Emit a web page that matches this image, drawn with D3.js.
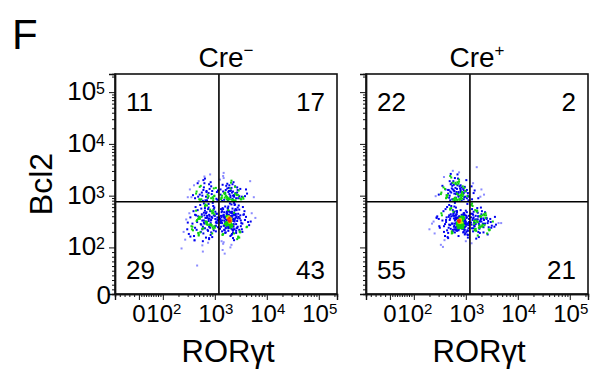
<!DOCTYPE html>
<html><head><meta charset="utf-8">
<script src="https://cdn.jsdelivr.net/npm/d3@7"></script>
<style>
body{margin:0;background:#fff}
text{font-family:"Liberation Sans",Arial,Helvetica,sans-serif;fill:#000}
</style>
</head><body>
<svg id="chart" width="591" height="370"></svg>
<script>
// ---------------- data ----------------
const panelLetter = "F";
const panelTitles = ["Cre", "Cre"];
const panelTitleSigns = ["\u2212", "+"];
const xAxisTitle = "RORγt";
const yAxisTitle = "Bcl2";
const majorTickValues = [0, 100, 1000, 10000, 100000];
const majorTickExponents = [null, 2, 3, 4, 5];
// quadrant percentages: upper-left, upper-right, lower-left, lower-right
const creNegQuadrants = [11, 17, 29, 43];
const creposQuadrants = [22, 2, 55, 21];
const gateRORgt = 1200;
const gateBcl2 = 760;
// events (log10 fluorescence), Cre- panel
const creNegLogRORgt = [
2.62,2.71,2.78,2.85,2.93,2.99,3.04,2.67,2.74,2.81,2.88,2.96,3.02,2.58,2.69,2.77,2.84,2.91,2.97,2.52,2.73,2.86,2.94,3.05,2.80,2.65,2.89,2.76,2.83,2.98,2.70,2.92,2.48,
2.55,2.62,2.68,2.74,2.79,2.83,2.88,2.92,2.97,3.01,3.05,2.58,2.64,2.71,2.77,2.81,2.86,2.90,2.95,2.99,3.03,3.06,2.51,2.60,2.66,2.72,2.76,2.82,2.87,2.91,2.94,2.98,3.02,
2.45,2.57,2.63,2.69,2.75,2.80,2.84,2.89,2.93,2.96,3.00,3.04,2.40,2.53,2.61,2.67,2.73,2.78,2.85,2.88,2.92,2.97,3.02,2.48,2.59,2.65,2.70,2.76,2.81,2.86,2.90,2.95,2.99,3.06,
2.36,2.56,2.64,2.72,2.79,2.84,2.89,2.94,3.01,2.50,2.68,2.77,2.83,2.91,2.98,2.43,2.74,2.87,2.82,2.66,
3.12,3.18,3.24,3.30,3.36,3.42,3.48,3.15,3.21,3.27,3.33,3.39,3.45,3.55,3.10,3.19,3.26,3.31,3.38,3.44,3.52,3.62,3.14,3.22,3.29,3.35,3.41,3.49,3.16,3.23,3.28,3.34,3.40,3.58,3.11,3.20,3.25,3.32,3.37,3.46,3.68,3.13,3.27,3.35,3.43,3.17,3.30,3.50,3.24,3.39,3.75,
3.10,3.14,3.18,3.22,3.26,3.30,3.34,3.38,3.42,3.47,3.53,3.60,3.71,3.12,3.16,3.20,3.24,3.28,3.32,3.36,3.40,3.45,3.50,3.57,3.66,3.13,
3.17,3.21,3.25,3.29,3.33,3.37,3.41,3.46,3.11,3.19,3.27,3.35,3.44,3.15,3.23,3.31,3.39,3.48,3.55,3.20,3.26,3.32,3.38,3.43,3.09,3.28,
3.18,3.22,3.30,3.34,3.25,3.29,3.36,3.24,3.31,3.27,3.33,3.21,3.52,3.14,3.26,3.37,3.41,3.49,3.62,3.16,3.23,3.30,3.35,3.19,3.28,3.45,
3.11,3.25,3.32,3.40,3.58,3.21,3.29,3.34,3.17,3.27,3.38,3.47,3.24,3.13,3.22,3.30,3.36,3.43,3.54,3.78,3.20,3.26,3.31,3.28,3.33,3.15,
3.18,3.23,3.29,3.35,3.42,3.50,3.64,3.12,3.27,3.32,3.25,3.30,3.39,3.16,3.21,3.26,3.34,3.44,3.19,3.29,3.37,3.23,3.31,3.28,3.48,
2.64,2.72,2.79,2.87,2.95,3.03,2.60,2.75,2.82,2.90,2.99,2.68,2.78,2.86,2.93,3.06,2.55,2.71,2.84,2.97,2.80,2.88,
3.13,3.19,3.25,3.31,3.37,3.43,3.51,3.16,3.22,3.28,3.34,3.40,3.47,3.60,3.11,3.18,3.24,3.30,3.36,3.42,3.14,3.21,3.27,3.33,3.39,3.54,3.17,3.23,3.29,3.35,3.45,3.20,3.26,3.32,
2.70,2.76,2.81,2.85,2.89,2.93,2.97,3.01,2.73,2.79,2.84,2.88,2.92,2.96,3.00,3.04,2.66,2.74,2.80,2.86,2.91,2.95,2.99,3.03,2.62,2.71,2.78,2.83,2.87,2.90,2.94,2.98,
2.57,2.68,2.77,2.82,2.88,2.93,2.96,3.02,2.53,2.65,2.75,2.81,2.86,2.92,2.97,3.05,2.47,2.69,2.79,2.85,2.89,2.95,2.61,2.84,2.91,2.76,
3.12,3.17,3.21,3.25,3.29,3.33,3.37,3.41,3.46,3.51,3.15,3.23,3.31,3.39,3.10,3.19,3.24,3.28,3.32,3.36,3.40,3.44,3.49,3.56,3.14,3.22,3.30,3.38,
3.13,3.18,3.26,3.30,3.34,3.27,3.31,3.35,3.42,3.61,3.16,3.24,3.29,3.33,3.11,3.20,3.25,3.28,3.32,3.26,3.30,3.36,3.45,3.53,3.18,3.22,3.27,3.34,
3.15,3.21,3.29,3.31,3.38,3.43,3.48,3.69,3.17,3.23,3.26,3.28,3.35,3.40,3.12,3.19,3.24,3.27,3.33,3.37,3.47,3.58,3.14,3.20,3.25,3.30,3.32,3.41,3.29,3.26
];
const creNegLogBcl2 = [
2.95,3.02,3.11,2.91,3.18,2.99,3.07,3.24,2.93,3.33,3.05,2.97,3.15,3.01,3.28,2.90,3.09,3.41,2.94,3.12,3.19,2.96,3.03,2.92,3.37,3.08,3.22,3.00,2.98,3.14,2.93,3.26,2.97,
2.41,2.63,2.28,2.75,2.52,2.19,2.84,2.47,2.36,2.69,2.58,2.33,2.71,2.55,2.12,2.80,2.44,2.61,2.27,2.77,2.50,2.39,2.66,2.22,2.49,2.82,2.35,2.57,2.09,2.73,2.43,2.62,2.31,
2.54,2.40,2.78,2.25,2.60,2.46,2.68,2.16,2.53,2.86,2.38,2.65,2.30,2.58,2.13,2.72,2.45,2.37,2.81,2.51,2.24,2.67,2.42,2.48,2.70,2.34,2.59,2.04,2.76,2.44,2.56,2.20,2.64,2.52,
1.98,2.35,2.62,2.29,2.85,2.47,2.18,2.70,2.41,2.26,2.55,1.92,2.66,2.38,2.74,2.15,2.59,2.32,2.50,1.65,
2.93,3.05,2.97,3.14,2.91,3.02,2.95,3.21,2.99,3.09,2.92,3.17,3.01,2.94,3.31,2.96,3.07,3.25,2.90,3.11,2.98,3.04,3.00,3.19,2.93,3.08,2.95,3.13,3.38,2.97,3.03,3.22,2.91,2.99,3.12,3.06,2.94,3.29,3.01,3.10,3.28,2.96,3.15,2.92,3.06,3.44,3.00,2.93,3.23,3.04,2.97,
2.55,2.31,2.68,2.44,2.79,2.22,2.61,2.50,2.37,2.73,2.46,2.59,2.66,2.40,2.74,2.28,2.57,2.48,2.83,2.35,2.64,2.19,2.52,2.70,2.43,2.12,
2.62,2.45,2.54,2.38,2.69,2.27,2.58,2.81,2.47,2.33,2.60,2.51,2.77,2.25,2.66,2.42,2.56,2.30,2.63,2.49,2.72,2.36,2.53,2.16,2.58,2.46,
2.52,2.60,2.41,2.55,2.48,2.58,2.44,2.64,2.50,2.39,2.57,2.47,2.35,2.70,2.32,2.86,2.45,2.62,2.40,2.07,2.53,2.67,2.29,2.59,2.43,2.21,
2.49,2.76,2.24,2.65,2.53,2.37,2.85,2.56,2.10,2.44,2.71,2.34,2.62,2.58,2.42,2.00,2.63,2.51,2.78,2.57,2.46,2.39,2.68,2.54,2.26,1.95,
2.34,2.69,2.52,2.18,2.60,2.41,2.49,2.74,2.45,2.05,2.57,2.38,2.83,2.61,2.29,2.48,2.75,2.40,1.88,2.55,2.14,2.64,2.43,2.50,2.31,
3.04,2.92,3.16,2.96,3.09,2.94,3.20,3.06,2.91,3.13,3.00,2.98,3.30,3.02,2.95,3.10,2.97,3.17,3.07,2.90,3.24,2.99,
2.96,3.03,2.91,3.10,2.98,3.16,2.93,3.08,3.00,3.20,2.94,3.05,2.99,3.12,3.02,2.92,3.14,2.97,3.26,3.01,2.90,3.11,2.95,3.06,3.18,2.97,3.34,2.93,3.09,3.00,2.95,3.04,2.92,3.15,
2.58,2.36,2.71,2.49,2.63,2.42,2.80,2.55,2.30,2.67,2.45,2.77,2.52,2.39,2.61,2.47,2.53,2.44,2.62,2.34,2.70,2.57,2.41,2.65,2.38,2.56,2.27,2.50,2.74,2.43,2.59,2.33,
2.46,2.60,2.40,2.83,2.55,2.29,2.68,2.48,2.21,2.51,2.64,2.37,2.58,2.45,2.72,2.54,2.35,2.23,2.48,2.61,2.40,2.66,2.14,2.57,2.44,2.52,
2.49,2.63,2.38,2.71,2.55,2.44,2.67,2.32,2.59,2.47,2.76,2.41,2.53,2.62,2.36,2.57,2.46,2.69,2.51,2.40,2.74,2.56,2.29,2.64,2.52,2.45,2.60,2.35,
2.68,2.42,2.58,2.50,2.34,2.63,2.47,2.55,2.72,2.39,2.26,2.61,2.48,2.66,2.53,2.79,2.44,2.57,2.61,2.37,2.52,2.45,2.65,2.30,2.58,2.49,2.70,2.43,
2.24,2.54,2.60,2.46,2.82,2.38,2.56,2.50,2.42,2.67,2.48,2.55,2.33,2.73,2.61,2.45,2.57,2.51,2.40,2.64,2.19,2.53,2.47,2.59,2.75,2.43,2.56,2.28,2.51,2.58
];
// events (log10 fluorescence), Cre+ panel
const crePosLogRORgt = [
2.62,2.70,2.77,2.83,2.89,2.95,3.01,3.06,2.66,2.74,2.80,2.86,2.92,2.98,3.04,2.58,2.68,2.75,2.81,2.87,2.93,2.99,3.03,2.55,2.72,2.79,2.85,2.91,2.97,
2.64,2.71,2.78,2.84,2.90,2.96,3.02,2.60,2.69,2.76,2.82,2.88,2.94,2.48,2.73,2.81,2.87,2.93,3.05,2.67,2.79,2.86,2.92,2.52,2.77,2.84,2.90,2.42,2.70,2.88,2.96,2.75,2.83,2.63,2.80,2.91,2.86,
3.12,3.21,3.17,3.28,3.14,3.35,
2.60,2.68,2.75,2.81,2.86,2.90,2.94,2.98,3.02,3.05,2.72,2.84,2.92,2.97,3.04,2.55,2.66,2.78,2.83,2.88,2.91,2.95,2.99,3.03,2.70,2.80,2.87,2.93,2.96,3.06,
2.50,2.63,2.74,2.82,2.85,2.89,2.92,2.96,3.00,2.77,2.86,2.90,2.94,2.98,3.01,2.45,2.58,2.69,2.79,2.84,2.88,2.91,2.95,2.99,2.73,2.82,2.87,2.93,2.97,3.03,
2.40,2.62,2.71,2.80,2.86,2.89,2.92,2.94,2.97,2.76,2.83,2.88,2.91,2.95,3.00,2.35,2.57,2.67,2.78,2.85,2.90,2.93,2.96,3.02,2.74,2.81,2.87,2.92,2.98,3.05,
2.48,2.64,2.72,2.82,2.86,2.89,2.91,2.94,2.99,2.77,2.84,2.88,2.90,2.93,2.96,2.30,2.53,2.65,2.76,2.83,2.87,2.92,2.95,3.01,2.70,2.79,2.85,2.89,2.94,3.04,
2.43,2.59,2.68,2.80,2.85,2.88,2.90,2.93,2.97,2.75,2.82,2.86,2.91,2.95,3.00,2.52,2.61,2.73,2.81,2.84,2.87,2.89,2.92,2.96,2.78,2.83,2.88,2.90,2.94,2.99,
2.38,2.56,2.70,2.79,2.86,2.91,2.93,2.97,3.03,2.66,2.76,2.85,2.89,2.95,3.06,
3.10,3.14,3.18,3.22,3.26,3.30,3.34,3.38,3.43,3.49,3.56,3.12,3.16,3.20,3.24,3.28,3.32,3.37,3.42,3.47,3.63,3.11,3.15,3.19,3.23,3.27,3.31,3.36,3.40,3.46,3.52,
3.13,3.17,3.21,3.25,3.29,3.33,3.39,3.44,3.58,3.10,3.14,3.18,3.22,3.26,3.30,3.35,3.41,3.50,3.12,3.16,3.20,3.24,3.28,3.34,3.45,3.68,3.11,3.15,3.19,3.23,3.27,3.32,
2.65,2.73,2.80,2.86,2.91,2.97,3.02,2.69,2.76,2.83,2.88,2.94,3.00,2.61,2.72,2.79,2.85,2.90,2.96,3.04,
2.57,2.70,2.78,2.84,2.89,2.95,2.66,2.74,2.81,2.87,2.93,2.99,2.63,2.77,2.82,2.88,2.92,2.71,2.80,2.86,2.53,2.75,2.84,2.90,
3.15,3.24,3.11,3.30,
2.82,2.86,2.89,2.91,2.93,2.95,2.88,2.90,2.92,2.87,2.94,2.84,2.88,2.90,2.92,2.96,2.85,2.89,2.91,2.93,2.86,2.98,
2.78,2.83,2.87,2.90,2.94,2.97,2.81,2.88,2.92,2.95,3.00,2.72,2.80,2.85,2.89,2.91,2.93,2.84,2.87,2.90,2.96,3.02,
2.67,2.76,2.82,2.86,2.89,2.92,2.94,2.88,2.91,2.99,3.04,2.62,2.74,2.79,2.85,2.88,2.90,2.93,2.87,2.92,2.97,3.01,
2.58,2.70,2.77,2.83,2.87,2.91,2.95,2.86,2.89,2.93,3.05,2.54,2.68,2.75,2.81,2.86,2.90,2.94,2.88,2.92,2.96,3.03,
2.49,2.64,2.73,2.80,2.84,2.89,2.91,2.85,2.90,2.98,3.06,2.44,2.60,2.71,2.78,2.83,2.87,2.92,2.89,2.93,2.95,3.00,
3.11,3.15,3.19,3.23,3.27,3.31,3.36,3.42,3.13,3.17,3.21,3.25,3.29,3.34,3.40,3.48,3.10,3.16,3.20,3.24,3.28,3.33,3.38,3.55,
3.12,3.18,3.22,3.26,3.30,3.35,3.44,3.14,3.19,3.23,3.27,3.32,3.16,3.21,3.25,3.29,3.37,3.13
];
const crePosLogBcl2 = [
2.95,3.08,3.21,2.92,3.14,3.02,3.30,2.98,3.11,2.93,3.25,3.05,2.90,3.17,3.00,3.36,2.96,3.12,3.03,3.27,2.94,3.09,2.99,3.19,3.06,2.91,3.33,3.01,3.15,
2.97,3.22,3.04,3.41,2.93,3.10,2.95,3.13,3.00,3.28,3.07,2.92,3.18,3.02,3.24,2.96,3.45,3.06,2.91,3.11,3.34,2.98,3.16,3.03,2.94,3.20,3.09,2.99,3.38,2.93,3.05,3.48,3.13,3.01,3.23,2.97,3.07,
2.93,3.55,3.10,2.98,3.24,3.02,
2.45,2.62,2.31,2.54,2.40,2.72,2.48,2.25,2.58,2.43,2.80,2.36,2.51,2.66,2.19,2.52,2.28,2.69,2.44,2.57,2.38,2.63,2.47,2.33,2.75,2.55,2.42,2.60,2.30,2.49,
2.38,2.58,2.46,2.64,2.35,2.50,2.43,2.56,2.41,2.67,2.22,2.53,2.47,2.39,2.61,2.60,2.41,2.53,2.29,2.48,2.44,2.59,2.37,2.52,2.46,2.70,2.40,2.55,2.34,2.84,
2.27,2.49,2.36,2.57,2.42,2.54,2.45,2.50,2.39,2.61,2.32,2.47,2.44,2.58,2.12,2.46,2.70,2.59,2.35,2.51,2.40,2.55,2.43,2.68,2.28,2.77,2.49,2.42,2.53,2.37,
2.55,2.33,2.76,2.48,2.45,2.52,2.38,2.47,2.62,2.56,2.41,2.50,2.46,2.36,2.65,2.35,2.66,2.20,2.62,2.40,2.49,2.44,2.57,2.30,2.73,2.52,2.45,2.59,2.42,2.24,
2.58,2.14,2.82,2.39,2.53,2.46,2.51,2.43,2.55,2.34,2.64,2.48,2.38,2.50,2.71,2.05,2.74,2.31,2.56,2.44,2.39,2.47,2.53,2.36,2.79,2.48,2.54,2.42,2.61,2.27,
2.50,2.01,2.43,2.86,2.33,2.57,2.41,2.63,2.46,2.18,2.69,2.37,2.52,2.29,2.55,
2.48,2.63,2.35,2.71,2.42,2.56,2.29,2.66,2.51,2.38,2.59,2.74,2.45,2.32,2.60,2.52,2.40,2.68,2.25,2.55,2.47,2.82,2.37,2.61,2.49,2.28,2.70,2.43,2.57,2.34,2.50,
2.65,2.41,2.54,2.20,2.77,2.46,2.62,2.39,2.44,2.58,2.31,2.72,2.50,2.36,2.64,2.53,2.27,2.42,2.85,2.48,2.17,2.60,2.40,2.56,2.33,2.47,2.08,2.69,2.45,2.54,2.38,2.62,
3.01,3.14,2.94,3.23,3.06,2.97,3.11,3.28,2.92,3.04,3.18,2.99,3.08,3.12,3.35,2.96,3.02,3.20,2.93,3.05,
3.16,2.91,3.09,3.26,3.00,3.13,3.04,3.19,2.95,3.31,3.07,2.98,2.97,3.10,3.22,2.94,3.03,3.42,3.15,3.00,3.06,3.25,2.92,3.12,
3.05,2.95,3.18,3.12,
2.47,2.52,2.41,2.56,2.44,2.50,2.38,2.54,2.46,2.60,2.43,2.55,2.40,2.49,2.45,2.58,2.51,2.43,2.53,2.48,2.36,2.52,
2.42,2.58,2.50,2.39,2.53,2.46,2.62,2.44,2.57,2.41,2.49,2.60,2.34,2.54,2.48,2.42,2.57,2.46,2.51,2.37,2.55,2.44,
2.38,2.65,2.45,2.52,2.56,2.40,2.49,2.59,2.43,2.50,2.32,2.53,2.28,2.61,2.43,2.47,2.54,2.39,2.48,2.63,2.45,2.57,
2.30,2.56,2.40,2.68,2.51,2.45,2.55,2.36,2.50,2.42,2.47,2.62,2.44,2.72,2.35,2.57,2.48,2.43,2.52,2.40,2.66,2.25,
2.41,2.78,2.27,2.55,2.46,2.51,2.58,2.44,2.53,2.34,2.61,2.57,2.22,2.64,2.46,2.70,2.42,2.49,2.56,2.38,2.59,2.45,
2.44,2.58,2.36,2.67,2.50,2.41,2.62,2.47,2.53,2.33,2.71,2.46,2.59,2.39,2.55,2.49,2.65,2.42,2.52,2.30,2.61,2.45,2.57,2.40,
2.37,2.54,2.76,2.43,2.50,2.64,2.35,2.56,2.48,2.23,2.60,2.44,2.51,2.69,2.38,2.55,2.46,2.80
];

// ---------------- layout ----------------
const svg = d3.select("#chart");
const W = 222, H = 220, TOP = 74;
const panelLefts = [115, 366];
const X_LIN_DECADES = 0.46, Y_LIN_DECADES = 0.9, AX_MAX = 224000, X_MIN = -100;
// logicle-like display transform: linear below 100, log above
const tx = v => v >= 100 ? Math.log10(v) : 2 - X_LIN_DECADES * (1 - v / 100);
const ty = v => v >= 100 ? Math.log10(v) : 2 - Y_LIN_DECADES * (1 - v / 100);
const xLin = d3.scaleLinear().domain([tx(X_MIN), tx(AX_MAX)]).range([0, W]);
const yLin = d3.scaleLinear().domain([ty(0), ty(AX_MAX)]).range([H, 0]);
const sx = v => xLin(tx(v));
const sy = v => yLin(ty(v));

const minorX = [], minorY = [];
for (let n = 2; n <= 5; n++) for (let k = 2; k <= 9; k++) { const v = k * Math.pow(10, n); if (v <= AX_MAX) { minorX.push(v); minorY.push(v); } }
for (let v = 10; v < 100; v += 10) { minorX.push(v); minorY.push(v); }
for (let v = -20; v >= -100; v -= 20) minorX.push(v);

svg.append("text").attr("x", 12).attr("y", 49).attr("font-size", 42).text(panelLetter);

const panels = [
  {xs: creNegLogRORgt, ys: creNegLogBcl2, q: creNegQuadrants},
  {xs: crePosLogRORgt, ys: crePosLogBcl2, q: creposQuadrants}
];

panels.forEach((p, i) => {
  const g = svg.append("g").attr("transform", `translate(${panelLefts[i]},${TOP})`);
  const cx = W / 2;
  const t = g.append("text").attr("x", cx).attr("y", -7).attr("text-anchor", "middle").attr("font-size", 28);
  t.append("tspan").text(panelTitles[i]);
  t.append("tspan").attr("font-size", 17).attr("dy", -11).text(panelTitleSigns[i]);

  // events, pseudocolored by local density
  const n = Math.min(p.xs.length, p.ys.length);
  const pts = [];
  for (let j = 0; j < n; j++) pts.push({x: xLin(p.xs[j]), y: yLin(p.ys[j])});
  pts.forEach(a => {
    let c1 = 0, c2 = 0;
    pts.forEach(b => { const dx = a.x - b.x, dy = a.y - b.y, d2 = dx*dx + dy*dy; if (d2 < 5) c1++; if (d2 < 100) c2++; });
    a.c1 = c1; a.c2 = c2; a.ratio = c1 / (c2 * 0.05);
  });
  const byC2 = pts.slice().sort((a, b) => (a.c2 + 0.1 * a.c1) - (b.c2 + 0.1 * b.c1));
  byC2.forEach((a, r) => { a.rank = r / n; });
  pts.forEach(a => {
    a.c = a.rank > 0.985 ? "#ff3000" : a.rank > 0.97 ? "#ffa000"
        : (a.rank > 0.94 && a.ratio > 1.2) ? "#c8e800"
        : (a.c2 >= 18 && a.ratio >= 1.6) ? "#10d010"
        : a.c2 >= 12 ? "#0000f0" : "#8c8cff";
    a.z = a.c === "#8c8cff" ? 0 : a.c === "#0000f0" ? 1 : a.c === "#10d010" ? 2 : 3 + a.rank;
  });
  const sorted = pts.slice().sort((a, b) => a.z - b.z);
  g.append("g").selectAll("rect").data(sorted).join("rect")
    .attr("x", d => d.x - 1).attr("y", d => d.y - 1).attr("width", 2).attr("height", 2)
    .attr("fill", d => d.c);

  // gates
  g.append("line").attr("x1", sx(gateRORgt)).attr("x2", sx(gateRORgt)).attr("y1", 0).attr("y2", H)
    .attr("stroke", "#000").attr("stroke-width", 1.6);
  g.append("line").attr("x1", 0).attr("x2", W).attr("y1", sy(gateBcl2)).attr("y2", sy(gateBcl2))
    .attr("stroke", "#000").attr("stroke-width", 1.6);

  g.append("rect").attr("x", 0).attr("y", 0).attr("width", W).attr("height", H)
    .attr("fill", "none").attr("stroke", "#111").attr("stroke-width", 1.6);

  // axes
  const ax = g.append("g").attr("transform", `translate(0,${H})`);
  ax.call(d3.axisBottom(xLin).tickValues(majorTickValues.map(tx)).tickSize(6).tickFormat(""));
  ax.append("g").call(d3.axisBottom(xLin).tickValues(minorX.map(tx)).tickSize(3).tickFormat(""));
  const ay = g.append("g");
  ay.call(d3.axisLeft(yLin).tickValues(majorTickValues.map(ty)).tickSize(6).tickFormat(""));
  ay.append("g").call(d3.axisLeft(yLin).tickValues(minorY.map(ty)).tickSize(3).tickFormat(""));
  g.selectAll(".domain").attr("stroke", "#111").attr("stroke-width", 1.4);
  g.selectAll(".tick line").attr("stroke", "#111").attr("stroke-width", 1);

  // x tick labels
  majorTickValues.forEach((v, k) => {
    const e = majorTickExponents[k];
    const tt = g.append("text").attr("y", H + 28).attr("font-size", 24).attr("text-anchor", "middle")
      .attr("x", sx(v) + (e == null ? 0 : 1));
    if (e == null) tt.text("0");
    else { tt.append("tspan").text("10"); tt.append("tspan").attr("font-size", 15).attr("dy", -8).text(e); }
  });
  if (i === 0) {
    majorTickValues.forEach((v, k) => {
      const e = majorTickExponents[k];
      const tt = g.append("text").attr("font-size", 26).attr("text-anchor", "end");
      if (e == null) tt.attr("x", -4).attr("y", sy(v) + 10).text("0");
      else {
        tt.attr("x", -10).attr("y", sy(v) + 8);
        tt.append("tspan").text("10");
        tt.append("tspan").attr("font-size", 16).attr("dy", -6).text(e);
      }
    });
    g.append("text").attr("transform", `translate(${52 - panelLefts[0]},${H / 2}) rotate(-90)`)
      .attr("text-anchor", "middle").attr("font-size", 32).text(yAxisTitle);
  }
  g.append("text").attr("x", cx + 2).attr("y", H + 68).attr("text-anchor", "middle").attr("font-size", 31).text(xAxisTitle);

  const qp = [[11, 37, "start"], [W - 12, 37, "end"], [11, 205, "start"], [W - 12, 205, "end"]];
  p.q.forEach((val, k) => {
    g.append("text").attr("x", qp[k][0]).attr("y", qp[k][1]).attr("text-anchor", qp[k][2])
      .attr("font-size", 26).text(val);
  });
});
</script>
</body></html>
